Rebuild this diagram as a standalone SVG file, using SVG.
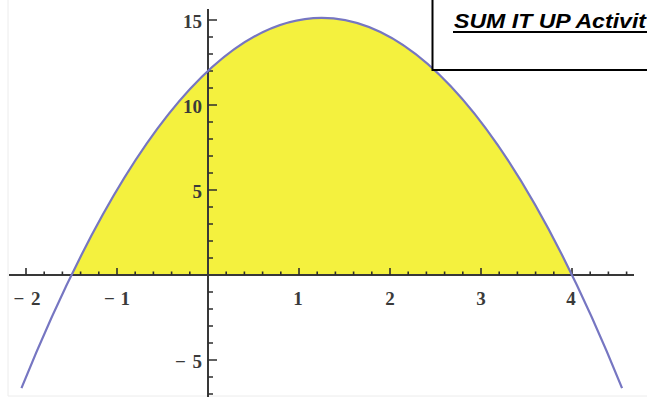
<svg xmlns="http://www.w3.org/2000/svg" width="647" height="400" viewBox="0 0 647 400">
<style>
.ax{stroke:#383838;stroke-width:2;fill:none}
.tk{stroke:#2e2e2e;stroke-width:1.6;fill:none}
.lbl{font-family:"Liberation Serif","Times New Roman",serif;font-size:19px;font-weight:bold;fill:#3a3a3a}
.xl{text-anchor:middle}
.yl{text-anchor:end}
.ttl{font-family:"Liberation Sans",Arial,sans-serif;font-size:20px;font-weight:bold;font-style:italic;fill:#000}
</style>
<rect width="647" height="400" fill="#fff"/>
<path d="M8,0 V396 H647" fill="none" stroke="#ececec" stroke-width="1"/>
<g id="plot">
  <path id="area" d="M71.5,275 Q321.75,-239.25 572,275 Z" fill="#f4f13e"/>
  <g id="axes">
    <line class="ax" x1="9" y1="275" x2="634" y2="275"/>
    <line class="ax" x1="208" y1="9" x2="208" y2="397"/>
    <path class="tk" d="M26,275v-7M117,275v-7M299,275v-7M390,275v-7M481,275v-7M572,275v-7
      M44.2,275v-3.5M62.4,275v-3.5M80.6,275v-3.5M98.8,275v-3.5M135.2,275v-3.5M153.4,275v-3.5M171.6,275v-3.5M189.8,275v-3.5
      M226.2,275v-3.5M244.4,275v-3.5M262.6,275v-3.5M280.8,275v-3.5M317.2,275v-3.5M335.4,275v-3.5M353.6,275v-3.5M371.8,275v-3.5
      M408.2,275v-3.5M426.4,275v-3.5M444.6,275v-3.5M462.8,275v-3.5M499.2,275v-3.5M517.4,275v-3.5M535.6,275v-3.5M553.8,275v-3.5
      M590.2,275v-3.5M608.4,275v-3.5M626.6,275v-3.5"/>
    <path class="tk" d="M208,20h9M208,105h9M208,190h9M208,360h9
      M208,37h5M208,54h5M208,71h5M208,88h5M208,122h5M208,139h5M208,156h5M208,173h5
      M208,207h5M208,224h5M208,241h5M208,258h5M208,292h5M208,309h5M208,326h5M208,343h5M208,377h5M208,394h5"/>
    <text class="lbl xl" x="27" y="305" textLength="27">−2</text>
    <text class="lbl xl" x="117" y="305" textLength="26">−1</text>
    <text class="lbl xl" x="298" y="305">1</text>
    <text class="lbl xl" x="390" y="305">2</text>
    <text class="lbl xl" x="481" y="305">3</text>
    <text class="lbl xl" x="571" y="305">4</text>
    <text class="lbl yl" x="202" y="28">15</text>
    <text class="lbl yl" x="202" y="113">10</text>
    <text class="lbl yl" x="202" y="198">5</text>
    <text class="lbl yl" x="202" y="368" textLength="27">−5</text>
  </g>
  <path id="curve" d="M21.45,388.1 Q321.75,-352.4 622.05,388.1" fill="none" stroke="#7676c2" stroke-width="2.2"/>
</g>
<g id="title-box">
  <rect x="432.5" y="-4" width="220" height="74" fill="#fff" stroke="#000" stroke-width="2"/>
  <text class="ttl" x="454" y="28" textLength="192" lengthAdjust="spacingAndGlyphs">SUM IT UP Activit</text>
  <line x1="453" y1="32" x2="647" y2="32" stroke="#000" stroke-width="1.8"/>
</g>
</svg>
